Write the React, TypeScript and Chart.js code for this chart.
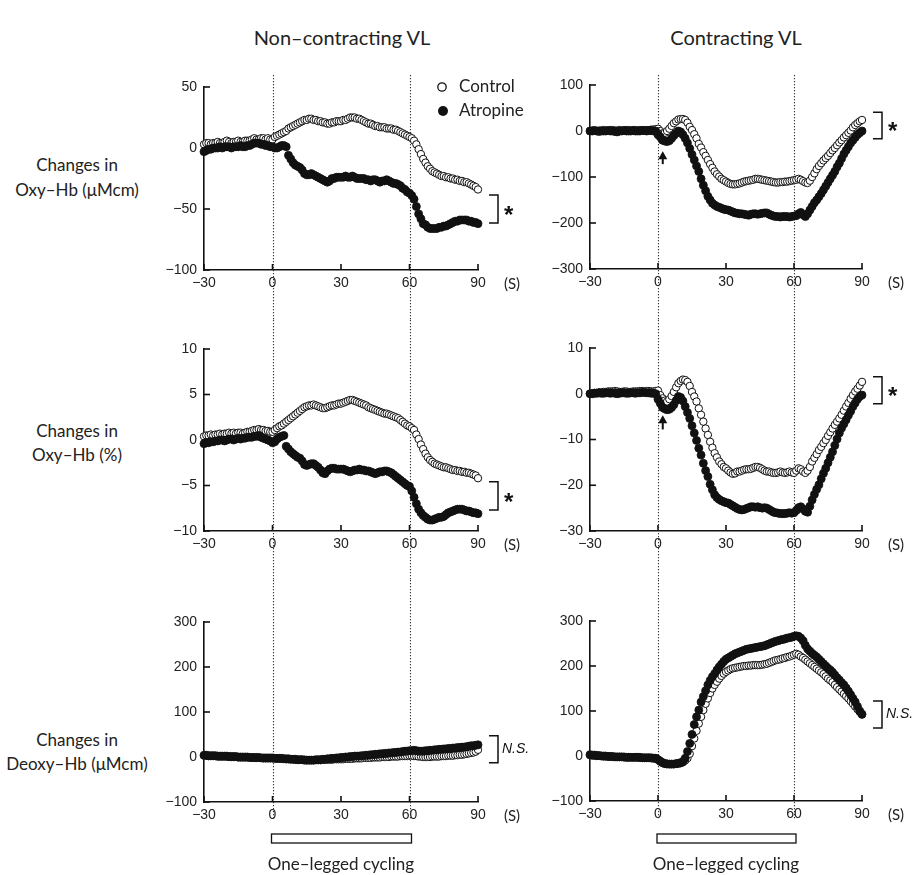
import React, { useEffect, useRef } from "react";
import { Chart, registerables } from "chart.js";
Chart.register(...registerables);

// sampling grid: one sample per second from -30 s to 90 s
const TIME_START = -30;
const TIME_STEP = 1;
const X_TICKS = [-30, 0, 30, 60, 90];
const CYCLING_START = 0;
const CYCLING_END = 60;
const SERIES_NAMES = ["Control", "Atropine"];
const COLUMN_TITLES = ["Non\u2013contracting VL", "Contracting VL"];
const ROW_LABELS = [
  ["Changes in", "Oxy\u2013Hb (\u03bcMcm)"],
  ["Changes in", "Oxy\u2013Hb (%)"],
  ["Changes in", "Deoxy\u2013Hb (\u03bcMcm)"],
];

// Non-contracting VL, Oxy-Hb (μMcm)
const oxyNcControl = [
  3, 4, 4, 3, 4, 4, 5, 4, 4, 5,
  6, 5, 4, 5, 5, 6, 5, 5, 6, 6,
  6, 7, 8, 7, 7, 8, 8, 7, 8, 7,
  7, 9, 10, 11, 12, 13, 14, 16, 17, 18,
  19, 20, 21, 22, 23, 23, 24, 24, 23, 23,
  22, 22, 21, 21, 20, 20, 21, 21, 22, 22,
  22, 23, 23, 24, 25, 25, 25, 24, 24, 23,
  22, 21, 20, 20, 19, 18, 18, 17, 17, 17,
  16, 16, 16, 15, 15, 14, 13, 12, 11, 10,
  9, 8, 6, 3, -1, -5, -9, -12, -15, -17,
  -19, -20, -21, -22, -23, -23, -24, -24, -25, -25,
  -26, -26, -27, -27, -28, -28, -29, -30, -31, -32,
  -34,
];
const oxyNcAtropine = [
  -3, -2, -1, -1, 0, 0, 0, 1, 0, 1,
  1, 1, 0, 1, 1, 1, 2, 1, 1, 2,
  2, 3, 4, 4, 4, 3, 3, 2, 2, 1,
  1, 0, 0, 1, 2, 2, 1, -6, -9, -12,
  -14, -15, -16, -18, -21, -22, -22, -21, -22, -23,
  -24, -25, -26, -27, -28, -27, -25, -25, -24, -24,
  -24, -24, -23, -24, -24, -23, -24, -25, -25, -25,
  -25, -26, -26, -27, -26, -26, -27, -28, -27, -27,
  -26, -27, -28, -29, -29, -30, -31, -33, -34, -36,
  -37, -39, -42, -48, -54, -58, -62, -63, -65, -66,
  -66, -66, -66, -65, -65, -64, -64, -63, -62, -61,
  -60, -60, -59, -59, -59, -59, -60, -60, -61, -61,
  -62,
];

// Contracting VL, Oxy-Hb (μMcm)
const oxyCControl = [
  0, 1, 1, 0, 1, 1, 2, 1, 1, 2,
  2, 1, 1, 2, 1, 1, 2, 2, 1, 2,
  2, 1, 2, 2, 1, 2, 2, 3, 3, 4,
  5, 0, -5, -4, 0, 5, 11, 17, 21, 25,
  26, 26, 24, 18, 9, 2, -7, -16, -28, -36,
  -46, -54, -63, -72, -80, -88, -94, -99, -104, -107,
  -110, -113, -115, -116, -116, -115, -114, -112, -110, -109,
  -108, -107, -106, -104, -104, -105, -106, -107, -108, -109,
  -110, -111, -112, -112, -111, -111, -110, -110, -109, -108,
  -107, -106, -104, -106, -109, -112, -113, -108, -100, -92,
  -83, -76, -70, -64, -59, -54, -48, -42, -37, -31,
  -25, -20, -14, -9, -4, 1, 8, 13, 17, 21,
  24,
];
const oxyCAtropine = [
  0, 0, 1, 0, -1, 0, 0, 0, 1, 0,
  0, -1, -2, 0, 0, 1, 0, 0, 0, 1,
  0, 0, 0, 1, 1, 0, 1, 1, 0, 0,
  -8, -13, -20, -22, -23, -21, -16, -10, -5, 0,
  -2, -8, -16, -26, -38, -51, -63, -76, -88, -104,
  -118, -130, -142, -150, -157, -161, -164, -166, -168, -170,
  -171, -172, -174, -176, -178, -179, -180, -180, -181, -182,
  -183, -181, -180, -180, -181, -180, -179, -178, -178, -181,
  -183, -185, -186, -186, -187, -186, -186, -186, -187, -186,
  -185, -184, -180, -177, -182, -186, -180, -172, -164, -156,
  -150, -143, -136, -128, -120, -112, -104, -96, -88, -78,
  -70, -60, -50, -42, -34, -26, -20, -14, -8, -4,
  0,
];

// Non-contracting VL, Oxy-Hb (%)
const pctNcControl = [
  0.4, 0.5, 0.5, 0.6, 0.5, 0.6, 0.6, 0.7, 0.6, 0.7,
  0.7, 0.8, 0.7, 0.8, 0.7, 0.8, 0.8, 0.7, 0.8, 0.9,
  0.9, 1.0, 1.1, 1.1, 1.2, 1.1, 1.1, 1.0, 1.0, 0.9,
  0.9, 1.1, 1.3, 1.5, 1.6, 1.8, 2.0, 2.2, 2.4, 2.6,
  2.8, 3.0, 3.2, 3.4, 3.6, 3.7, 3.8, 3.8, 3.9, 3.8,
  3.7, 3.6, 3.5, 3.5, 3.6, 3.7, 3.8, 3.8, 3.9, 4.0,
  4.0, 4.1, 4.2, 4.3, 4.4, 4.4, 4.3, 4.2, 4.1, 4.0,
  3.9, 3.8, 3.6, 3.5, 3.4, 3.3, 3.2, 3.1, 3.0, 2.9,
  2.9, 2.8, 2.7, 2.6, 2.5, 2.4, 2.2, 2.0, 1.8, 1.6,
  1.5, 1.3, 1.1, 0.6, 0.1, -0.5, -1.0, -1.5, -1.9, -2.2,
  -2.4, -2.6, -2.7, -2.8, -2.9, -3.0, -3.0, -3.1, -3.2, -3.3,
  -3.3, -3.4, -3.4, -3.5, -3.5, -3.6, -3.6, -3.7, -3.8, -3.9,
  -4.2,
];
const pctNcAtropine = [
  -0.4, -0.3, -0.3, -0.2, -0.2, -0.1, -0.1, 0.0, 0.0, -0.1,
  0.0, 0.1, 0.1, 0.0, 0.1, 0.2, 0.1, 0.2, 0.2, 0.3,
  0.3, 0.3, 0.4, 0.4, 0.5, 0.3, 0.2, 0.1, 0.0, -0.1,
  -0.3, -0.2, 0.1, 0.3, 0.4, 0.5, -0.7, -1.0, -1.3, -1.5,
  -1.7, -1.9, -2.0, -2.3, -2.7, -2.8, -2.7, -2.6, -2.6, -2.8,
  -3.0, -3.3, -3.6, -3.7, -3.4, -3.2, -3.1, -3.1, -3.2, -3.2,
  -3.2, -3.2, -3.3, -3.4, -3.5, -3.4, -3.3, -3.3, -3.2, -3.3,
  -3.3, -3.4, -3.4, -3.5, -3.6, -3.7, -3.6, -3.5, -3.5, -3.4,
  -3.4, -3.5, -3.6, -3.8, -4.0, -4.2, -4.4, -4.6, -4.8, -5.0,
  -5.1, -5.6, -6.3, -7.0, -7.6, -8.0, -8.3, -8.5, -8.7, -8.8,
  -8.8, -8.7, -8.6, -8.5, -8.5, -8.4, -8.2, -8.0, -7.9, -7.8,
  -7.7, -7.6, -7.6, -7.6, -7.7, -7.8, -7.8, -7.9, -8.0, -8.0,
  -8.1,
];

// Contracting VL, Oxy-Hb (%)
const pctCControl = [
  0.0, 0.1, 0.2, 0.2, 0.3, 0.3, 0.4, 0.4, 0.5, 0.5,
  0.5, 0.6, 0.5, 0.4, 0.4, 0.5, 0.5, 0.4, 0.4, 0.5,
  0.5, 0.5, 0.6, 0.6, 0.5, 0.6, 0.6, 0.5, 0.5, 0.6,
  0.7, -0.3, -1.0, -1.5, -1.7, -1.2, -0.5, 0.4, 1.4, 2.3,
  2.8, 3.1, 3.0, 2.6, 1.7, 0.4, -0.6, -1.7, -3.2, -4.6,
  -6.1, -7.6, -9.0, -10.5, -11.8, -13.0, -13.9, -14.8, -15.4, -16.0,
  -16.3, -16.8, -17.2, -17.5, -17.4, -17.0, -17.0, -16.8, -16.6, -16.5,
  -16.5, -16.4, -16.2, -16.0, -16.0, -16.2, -16.5, -16.8, -17.0, -17.0,
  -17.2, -17.3, -17.3, -17.2, -17.0, -17.2, -17.3, -17.2, -17.0, -17.2,
  -17.3, -16.8, -16.3, -16.5, -17.0, -17.3, -16.8, -16.0, -14.8, -14.0,
  -13.2, -12.3, -11.6, -10.8, -10.1, -9.2, -8.4, -7.6, -6.8, -6.1,
  -5.4, -4.6, -3.7, -2.8, -2.0, -1.1, -0.3, 0.5, 1.1, 1.8,
  2.6,
];
const pctCAtropine = [
  0.0, 0.0, 0.1, 0.1, 0.2, 0.1, 0.1, 0.2, 0.2, 0.1,
  0.2, 0.1, 0.0, 0.1, 0.2, 0.2, 0.1, 0.1, 0.2, 0.2,
  0.1, 0.2, 0.2, 0.3, 0.3, 0.2, 0.2, 0.1, 0.1, 0.0,
  -1.2, -2.1, -3.0, -3.3, -3.5, -3.4, -3.0, -2.4, -1.5, -0.6,
  -0.8, -1.6, -2.8, -4.1, -5.4, -7.0, -8.6, -10.2, -11.9, -13.4,
  -15.2, -16.8, -18.1, -19.8, -21.0, -22.1, -22.7, -23.1, -23.4, -23.6,
  -23.8, -23.9, -24.2, -24.5, -24.8, -25.1, -25.3, -25.4, -25.3, -25.1,
  -24.9, -24.7, -24.7, -24.8, -24.7, -24.9, -25.0, -24.9, -25.0, -25.3,
  -25.6, -25.9, -26.0, -26.1, -26.2, -26.2, -26.2, -26.1, -26.0, -26.1,
  -26.0, -25.5, -24.9, -24.7, -25.2, -25.7, -25.9, -24.6, -23.2, -22.0,
  -20.9, -19.9, -18.6, -17.4, -16.3, -15.1, -13.9, -12.7, -11.3, -9.9,
  -8.6, -7.5, -6.6, -5.7, -4.7, -3.8, -2.8, -2.0, -1.2, -0.6,
  -0.3,
];

// Non-contracting VL, Deoxy-Hb (μMcm)
const deoxyNcControl = [
  3, 3, 2, 2, 2, 2, 1, 1, 1, 1,
  1, 0, 0, 0, 0, -1, -1, -1, -1, -1,
  -1, -2, -2, -2, -2, -2, -3, -3, -3, -3,
  -3, -3, -4, -4, -4, -4, -5, -5, -5, -5,
  -6, -6, -6, -6, -6, -7, -7, -7, -7, -7,
  -7, -7, -6, -6, -6, -6, -6, -5, -5, -5,
  -5, -5, -4, -4, -4, -4, -3, -3, -3, -3,
  -2, -2, -2, -2, -1, -1, -1, -1, 0, 0,
  0, 0, 1, 1, 1, 1, 2, 2, 2, 2,
  3, 3, 2, 2, 1, 1, 0, 0, 0, 0,
  1, 1, 1, 1, 2, 2, 2, 3, 3, 3,
  4, 4, 5, 5, 6, 7, 8, 9, 10, 12,
  16,
];
const deoxyNcAtropine = [
  4, 4, 3, 3, 3, 3, 2, 2, 2, 2,
  2, 1, 1, 1, 1, 0, 0, 0, 0, 0,
  -1, -1, -1, -1, -1, -2, -2, -2, -2, -2,
  -2, -3, -3, -3, -3, -4, -4, -4, -5, -5,
  -5, -6, -6, -6, -7, -7, -7, -7, -7, -6,
  -6, -6, -5, -5, -4, -4, -3, -3, -2, -2,
  -1, -1, 0, 0, 1, 1, 2, 2, 2, 3,
  3, 4, 4, 5, 5, 6, 6, 7, 7, 8,
  8, 9, 9, 10, 10, 11, 11, 12, 13, 13,
  14, 14, 15, 14, 13, 13, 13, 14, 14, 15,
  15, 16, 16, 17, 17, 18, 18, 19, 19, 20,
  20, 21, 21, 22, 22, 23, 24, 25, 25, 26,
  27,
];

// Contracting VL, Deoxy-Hb (μMcm)
const deoxyCControl = [
  2, 1, 1, 0, 0, 0, -1, -1, -1, -1,
  -2, -2, -2, -2, -2, -3, -3, -3, -3, -3,
  -3, -3, -4, -4, -4, -4, -4, -5, -5, -5,
  -8, -11, -14, -16, -17, -18, -18, -18, -17, -17,
  -16, -14, -10, -5, 5, 22, 39, 56, 72, 87,
  102, 116, 128, 140, 150, 158, 165, 172, 178, 183,
  187, 190, 193, 195, 196, 197, 198, 199, 200, 200,
  201, 201, 202, 202, 202, 202, 203, 204, 205, 207,
  209, 211, 213, 214, 215, 217, 218, 220, 221, 223,
  225, 227, 225, 221, 218, 214, 210, 206, 202, 198,
  194, 190, 186, 182, 177, 172, 168, 164, 158, 153,
  148, 143, 138, 133, 128, 122, 116, 110, 104, 98,
  92,
];
const deoxyCAtropine = [
  3, 2, 2, 1, 1, 0, 0, 0, -1, -1,
  -1, -2, -2, -2, -2, -2, -3, -3, -3, -3,
  -3, -3, -3, -4, -4, -4, -4, -4, -5, -5,
  -8, -12, -15, -17, -18, -18, -18, -18, -17, -16,
  -15, -12, -5, 10, 28, 48, 70, 87, 102, 120,
  132, 145, 158, 168, 176, 183, 191, 198, 204, 210,
  215, 218, 221, 224, 227, 229, 231, 233, 235, 237,
  238, 239, 240, 241, 242, 243, 244, 245, 247, 249,
  251, 253, 255, 256, 258, 259, 260, 262, 263, 264,
  266, 267, 266, 262, 256, 246, 238, 233, 228, 224,
  220, 215, 210, 205, 200, 195, 191, 186, 180, 174,
  169, 163, 158, 151, 144, 136, 128, 120, 110, 100,
  93,
];

// statistics brackets: [upper, lower] in data units
const bracketOxyNc = [-38.5, -61.5];
const bracketOxyC = [41, -17];
const bracketPctNc = [-4.6, -7.7];
const bracketPctC = [3.7, -2.2];
const bracketDeoxyNc = [47, -13];
const bracketDeoxyC = [122, 62];
// onset arrow: [time, tail value, head value]
const arrowOxyC = [2.1, -72, -44];
const arrowPctC = [2.1, -7.8, -4.7];

const FONT = "Lato, 'Open Sans', sans-serif";
const TICK_FONT = "'Liberation Sans', Arial, sans-serif";

function toPoints(vals: number[]) {
  return vals.map((v, i) => ({ x: TIME_START + i * TIME_STEP, y: v }));
}

function minusFmt(v: number | string) {
  const n = Number(v);
  return n < 0 ? "\u2212" + Math.abs(n) : String(n);
}

const extrasPlugin = {
  id: "extras",
  beforeDatasetsDraw(chart: any, _a: any, o: any) {
    const ctx = chart.ctx;
    const xs = chart.scales.x;
    ctx.save();
    ctx.strokeStyle = "#333";
    ctx.lineWidth = 1.1;
    ctx.setLineDash([1.2, 1.8]);
    for (const v of [CYCLING_START, CYCLING_END]) {
      const px = Math.round(xs.getPixelForValue(v)) + 0.5;
      ctx.beginPath();
      ctx.moveTo(px, o.lineTop);
      ctx.lineTo(px, o.lineBottom);
      ctx.stroke();
    }
    ctx.restore();
  },
  afterDraw(chart: any, _a: any, o: any) {
    const ctx = chart.ctx;
    const xs = chart.scales.x;
    const ys = chart.scales.y;
    const ca = chart.chartArea;
    ctx.save();
    ctx.strokeStyle = "#111";
    ctx.fillStyle = "#111";
    ctx.lineWidth = 1.6;
    // inward tick marks
    for (const t of xs.ticks) {
      const px = xs.getPixelForValue(t.value);
      ctx.beginPath();
      ctx.moveTo(px, ca.bottom);
      ctx.lineTo(px, ca.bottom - 6);
      ctx.stroke();
    }
    for (const t of ys.ticks) {
      const py = ys.getPixelForValue(t.value);
      ctx.beginPath();
      ctx.moveTo(ca.left, py);
      ctx.lineTo(ca.left + 6, py);
      ctx.stroke();
    }
    // (S) unit
    ctx.font = "15px " + FONT;
    ctx.fillStyle = "#222";
    ctx.textAlign = "center";
    ctx.textBaseline = "middle";
    ctx.fillText("(S)", ca.right + 34, ca.bottom + 14);
    // bracket
    const b = o.bracket;
    const y1 = ys.getPixelForValue(b[0]);
    const y2 = ys.getPixelForValue(b[1]);
    const bx = ca.right + 20;
    ctx.strokeStyle = "#111";
    ctx.lineWidth = 1.5;
    ctx.beginPath();
    ctx.moveTo(bx - 9, y1);
    ctx.lineTo(bx, y1);
    ctx.lineTo(bx, y2);
    ctx.lineTo(bx - 9, y2);
    ctx.stroke();
    const mid = (y1 + y2) / 2;
    ctx.fillStyle = "#111";
    ctx.textAlign = "left";
    if (o.mark === "*") {
      ctx.font = "bold 24px " + TICK_FONT;
      ctx.textBaseline = "alphabetic";
      ctx.fillText("*", bx + 6, mid + 14);
    } else {
      ctx.font = "italic 14px " + TICK_FONT;
      ctx.textBaseline = "middle";
      ctx.fillText(o.mark, bx + 4, mid);
    }
    // legend
    if (o.legend) {
      const lx = o.legend.x;
      const ly = o.legend.y;
      ctx.lineWidth = 1.3;
      ctx.beginPath();
      ctx.arc(lx, ly, 4.2, 0, Math.PI * 2);
      ctx.fillStyle = "#fff";
      ctx.fill();
      ctx.strokeStyle = "#111";
      ctx.stroke();
      ctx.beginPath();
      ctx.arc(lx + 1, ly + 24, 5, 0, Math.PI * 2);
      ctx.fillStyle = "#111";
      ctx.fill();
      ctx.font = "17px " + FONT;
      ctx.fillStyle = "#222";
      ctx.textBaseline = "middle";
      ctx.textAlign = "left";
      ctx.fillText(SERIES_NAMES[0], lx + 17, ly);
      ctx.fillText(SERIES_NAMES[1], lx + 17, ly + 24);
    }
    // onset arrow
    if (o.arrow) {
      const ax = xs.getPixelForValue(o.arrow[0]);
      const yt = ys.getPixelForValue(o.arrow[1]);
      const yh = ys.getPixelForValue(o.arrow[2]);
      ctx.strokeStyle = "#111";
      ctx.fillStyle = "#111";
      ctx.lineWidth = 2;
      ctx.beginPath();
      ctx.moveTo(ax, yt);
      ctx.lineTo(ax, yh + 5);
      ctx.stroke();
      ctx.beginPath();
      ctx.moveTo(ax, yh);
      ctx.lineTo(ax - 4.5, yh + 8);
      ctx.lineTo(ax + 4.5, yh + 8);
      ctx.closePath();
      ctx.fill();
    }
    // cycling bar
    if (o.cycling) {
      const x0 = xs.getPixelForValue(CYCLING_START);
      const x1 = xs.getPixelForValue(CYCLING_END);
      ctx.strokeStyle = "#111";
      ctx.lineWidth = 1.3;
      ctx.strokeRect(x0 - 1, o.cycling.barTop, x1 - x0 + 3, 9);
      ctx.font = "17px " + FONT;
      ctx.fillStyle = "#222";
      ctx.textAlign = "center";
      ctx.textBaseline = "middle";
      ctx.fillText("One\u2013legged cycling", xs.getPixelForValue((CYCLING_START + CYCLING_END) / 2), o.cycling.textY);
    }
    ctx.restore();
  },
};

type Panel = {
  left: number; top: number; width: number; height: number;
  areaLeft: number; areaTop: number; areaRight: number; areaBottom: number;
  yMin: number; yMax: number; yStep: number;
  control: number[]; atropine: number[];
  bracket: number[]; mark: string;
  legend?: { x: number; y: number };
  arrow?: number[];
  cycling?: { barTop: number; textY: number };
  lineTop: number; lineBottom: number;
};

const PANELS: Panel[] = [
  { left: 130, top: 60, width: 400, height: 260, areaLeft: 74, areaTop: 27, areaRight: 52, areaBottom: 50,
    yMin: -100, yMax: 50, yStep: 50, control: oxyNcControl, atropine: oxyNcAtropine,
    bracket: bracketOxyNc, mark: "*", legend: { x: 312, y: 27 }, lineTop: 15, lineBottom: 260 },
  { left: 530, top: 60, width: 385, height: 260, areaLeft: 60, areaTop: 25, areaRight: 53, areaBottom: 51,
    yMin: -300, yMax: 100, yStep: 100, control: oxyCControl, atropine: oxyCAtropine,
    bracket: bracketOxyC, mark: "*", arrow: arrowOxyC, lineTop: 15, lineBottom: 260 },
  { left: 130, top: 320, width: 400, height: 260, areaLeft: 74, areaTop: 29, areaRight: 52, areaBottom: 49,
    yMin: -10, yMax: 10, yStep: 5, control: pctNcControl, atropine: pctNcAtropine,
    bracket: bracketPctNc, mark: "*", lineTop: 0, lineBottom: 260 },
  { left: 530, top: 320, width: 385, height: 260, areaLeft: 60, areaTop: 28, areaRight: 53, areaBottom: 49,
    yMin: -30, yMax: 10, yStep: 10, control: pctCControl, atropine: pctCAtropine,
    bracket: bracketPctC, mark: "*", arrow: arrowPctC, lineTop: 0, lineBottom: 260 },
  { left: 130, top: 580, width: 400, height: 295, areaLeft: 74, areaTop: 42, areaRight: 52, areaBottom: 73,
    yMin: -100, yMax: 300, yStep: 100, control: deoxyNcControl, atropine: deoxyNcAtropine,
    bracket: bracketDeoxyNc, mark: "N.S.", cycling: { barTop: 254, textY: 285 }, lineTop: 0, lineBottom: 240 },
  { left: 530, top: 580, width: 385, height: 295, areaLeft: 60, areaTop: 41, areaRight: 53, areaBottom: 74,
    yMin: -100, yMax: 300, yStep: 100, control: deoxyCControl, atropine: deoxyCAtropine,
    bracket: bracketDeoxyC, mark: "N.S.", cycling: { barTop: 254, textY: 285 }, lineTop: 0, lineBottom: 240 },
];

function PanelChart({ p }: { p: Panel }) {
  const ref = useRef<HTMLCanvasElement>(null);
  useEffect(() => {
    if (!ref.current) return;
    const chart = new Chart(ref.current, {
      type: "scatter",
      data: {
        datasets: [
          {
            label: SERIES_NAMES[1],
            data: toPoints(p.atropine),
            pointRadius: 4,
            pointBorderWidth: 0.8,
            pointBackgroundColor: "#111",
            pointBorderColor: "#111",
            showLine: false,
            clip: false,
          } as any,
          {
            label: SERIES_NAMES[0],
            data: toPoints(p.control),
            pointRadius: 3.7,
            pointBorderWidth: 1,
            pointBackgroundColor: "#fff",
            pointBorderColor: "#111",
            showLine: false,
            clip: false,
          } as any,
        ],
      },
      options: {
        animation: false,
        responsive: false,
        maintainAspectRatio: false,
        events: [],
        layout: { padding: { left: 0, top: p.areaTop, right: p.areaRight, bottom: 0 } },
        plugins: {
          legend: { display: false },
          tooltip: { enabled: false },
          extras: {
            bracket: p.bracket, mark: p.mark, legend: p.legend, arrow: p.arrow,
            cycling: p.cycling, lineTop: p.lineTop, lineBottom: p.lineBottom,
          },
        } as any,
        scales: {
          x: {
            type: "linear",
            min: X_TICKS[0],
            max: X_TICKS[X_TICKS.length - 1],
            afterBuildTicks: (s: any) => { s.ticks = X_TICKS.map((v) => ({ value: v })); },
            afterFit: (s: any) => { s.height = p.areaBottom; },
            grid: { display: false, drawTicks: false },
            border: { display: true, color: "#111", width: 1.6 },
            ticks: { color: "#222", font: { family: TICK_FONT, size: 14 }, padding: 5, maxRotation: 0, callback: minusFmt },
          },
          y: {
            type: "linear",
            min: p.yMin,
            max: p.yMax,
            ticks: { stepSize: p.yStep, color: "#222", font: { family: TICK_FONT, size: 14 }, padding: 7, callback: minusFmt },
            afterFit: (s: any) => { s.width = p.areaLeft; },
            grid: { display: false, drawTicks: false },
            border: { display: true, color: "#111", width: 1.6 },
          },
        },
      },
      plugins: [extrasPlugin],
    } as any);
    return () => chart.destroy();
  }, [p]);
  return (
    <canvas
      ref={ref}
      width={p.width}
      height={p.height}
      style={{ position: "absolute", left: p.left, top: p.top, width: p.width, height: p.height }}
    />
  );
}

const textStyle = (x: number, y: number, size: number): React.CSSProperties => ({
  position: "absolute",
  left: x,
  top: y,
  transform: "translate(-50%, -50%)",
  whiteSpace: "nowrap",
  fontFamily: FONT,
  fontSize: size,
  color: "#222",
  lineHeight: 1,
});

export default function App() {
  const rowY = [[164, 189], [430, 454], [739, 763]];
  return (
    <div style={{ position: "absolute", left: 0, top: 0, width: 915, height: 875, background: "#fff", overflow: "hidden" }}>
      <div style={textStyle(342, 37, 20)}>{COLUMN_TITLES[0]}</div>
      <div style={textStyle(736, 37, 20)}>{COLUMN_TITLES[1]}</div>
      {ROW_LABELS.map((lines, r) => (
        <React.Fragment key={r}>
          <div style={textStyle(77, rowY[r][0], 17)}>{lines[0]}</div>
          <div style={textStyle(77, rowY[r][1], 17)}>{lines[1]}</div>
        </React.Fragment>
      ))}
      {PANELS.map((p, i) => (
        <PanelChart key={i} p={p} />
      ))}
    </div>
  );
}
